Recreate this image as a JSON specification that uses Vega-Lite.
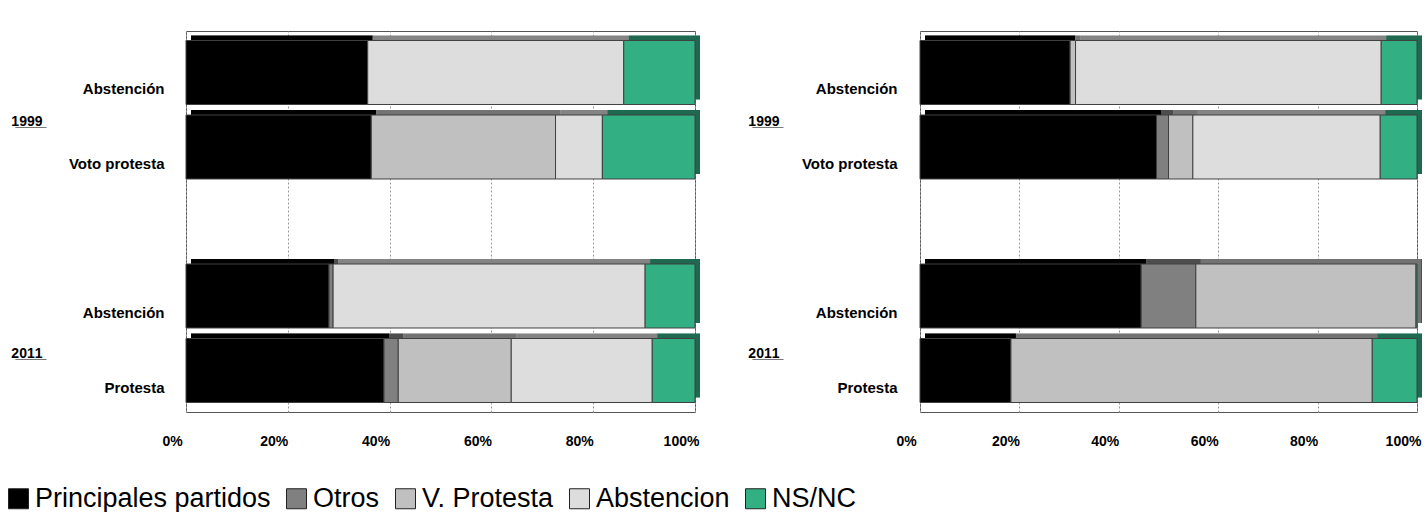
{
  "$schema": "https://vega.github.io/schema/vega-lite/v6.json",
  "background": "white",
  "padding": {"left": 5, "top": 30, "right": 2, "bottom": 0},
  "data": {"values": [
    {"panel": "A", "fila": "A99", "anio": "1999", "serie": "Principales partidos", "valor": 35.7},
    {"panel": "A", "fila": "A99", "anio": "1999", "serie": "Abstencion", "valor": 50.3},
    {"panel": "A", "fila": "A99", "anio": "1999", "serie": "NS/NC", "valor": 14.0},
    {"panel": "A", "fila": "V99", "anio": "1999", "serie": "Principales partidos", "valor": 36.4},
    {"panel": "A", "fila": "V99", "anio": "1999", "serie": "V. Protesta", "valor": 36.2},
    {"panel": "A", "fila": "V99", "anio": "1999", "serie": "Abstencion", "valor": 9.2},
    {"panel": "A", "fila": "V99", "anio": "1999", "serie": "NS/NC", "valor": 18.2},
    {"panel": "A", "fila": "A11", "anio": "2011", "serie": "Principales partidos", "valor": 28.1},
    {"panel": "A", "fila": "A11", "anio": "2011", "serie": "Otros", "valor": 0.8},
    {"panel": "A", "fila": "A11", "anio": "2011", "serie": "Abstencion", "valor": 61.3},
    {"panel": "A", "fila": "A11", "anio": "2011", "serie": "NS/NC", "valor": 9.8},
    {"panel": "A", "fila": "P11", "anio": "2011", "serie": "Principales partidos", "valor": 38.9},
    {"panel": "A", "fila": "P11", "anio": "2011", "serie": "Otros", "valor": 2.8},
    {"panel": "A", "fila": "P11", "anio": "2011", "serie": "V. Protesta", "valor": 22.2},
    {"panel": "A", "fila": "P11", "anio": "2011", "serie": "Abstencion", "valor": 27.7},
    {"panel": "A", "fila": "P11", "anio": "2011", "serie": "NS/NC", "valor": 8.4},
    {"panel": "B", "fila": "A99", "anio": "1999", "serie": "Principales partidos", "valor": 30.2},
    {"panel": "B", "fila": "A99", "anio": "1999", "serie": "V. Protesta", "valor": 1.1},
    {"panel": "B", "fila": "A99", "anio": "1999", "serie": "Abstencion", "valor": 61.5},
    {"panel": "B", "fila": "A99", "anio": "1999", "serie": "NS/NC", "valor": 7.2},
    {"panel": "B", "fila": "V99", "anio": "1999", "serie": "Principales partidos", "valor": 47.6},
    {"panel": "B", "fila": "V99", "anio": "1999", "serie": "Otros", "valor": 2.4},
    {"panel": "B", "fila": "V99", "anio": "1999", "serie": "V. Protesta", "valor": 4.9},
    {"panel": "B", "fila": "V99", "anio": "1999", "serie": "Abstencion", "valor": 37.7},
    {"panel": "B", "fila": "V99", "anio": "1999", "serie": "NS/NC", "valor": 7.4},
    {"panel": "B", "fila": "A11", "anio": "2011", "serie": "Principales partidos", "valor": 44.5},
    {"panel": "B", "fila": "A11", "anio": "2011", "serie": "Otros", "valor": 11.0},
    {"panel": "B", "fila": "A11", "anio": "2011", "serie": "V. Protesta", "valor": 44.3},
    {"panel": "B", "fila": "A11", "anio": "2011", "serie": "NS/NC", "valor": 0.2},
    {"panel": "B", "fila": "P11", "anio": "2011", "serie": "Principales partidos", "valor": 18.3},
    {"panel": "B", "fila": "P11", "anio": "2011", "serie": "V. Protesta", "valor": 72.7},
    {"panel": "B", "fila": "P11", "anio": "2011", "serie": "NS/NC", "valor": 9.0}
  ]},
  "transform": [
    {"calculate": "indexof(['Principales partidos','Otros','V. Protesta','Abstencion','NS/NC'], datum.serie)", "as": "orden"}
  ],
  "spacing": 46,
  "resolve": {"scale": {"color": "shared"}},
  "hconcat": [
    {
      "width": 509,
      "height": 381,
      "transform": [{"filter": "datum.panel === 'A'"}],
      "resolve": {"scale": {"y": "independent"}},
      "layer": [
        {
          "encoding": {
            "y": {"field": "fila", "type": "nominal", "scale": {"domain": ["A99", "V99", "sp", "A11", "P11"], "paddingInner": 0.141, "paddingOuter": 0.1275},
              "axis": {"title": null, "domain": false, "ticks": false, "tickSize": 0, "labelPadding": 22, "labelFontSize": 15, "labelOffset": 17,
                "labelExpr": "(datum.value === 'A99' || datum.value === 'A11') ? 'Abstención' : datum.value === 'V99' ? 'Voto protesta' : datum.value === 'P11' ? 'Protesta' : ''"}},
            "x": {"field": "valor", "type": "quantitative", "stack": "normalize", "scale": {"domain": [0, 1]},
              "axis": {"title": null, "format": ".0%", "values": [0, 0.2, 0.4, 0.6, 0.8, 1], "grid": true, "gridDash": [2, 2], "gridColor": "#999999", "domain": false, "ticks": false, "tickSize": 0, "labelPadding": 22, "labelOffset": -14, "labelFontSize": 14, "labelFlush": false}},
            "order": {"field": "orden", "type": "quantitative"}
          },
          "layer": [
            {"mark": {"type": "bar", "xOffset": 5, "yOffset": -5}, "encoding": {"color": {"field": "serie", "type": "nominal"}}},
            {"mark": {"type": "bar", "xOffset": 5, "yOffset": -5, "color": "black", "opacity": 0.4}},
            {"mark": {"type": "bar", "stroke": "#404040", "strokeWidth": 1},
              "encoding": {"color": {"field": "serie", "type": "nominal",
                "scale": {"domain": ["Principales partidos", "Otros", "V. Protesta", "Abstencion", "NS/NC"], "range": ["#000000", "#808080", "#C0C0C0", "#DDDDDD", "#33AF84"]},
                "legend": {"title": null, "orient": "none", "legendX": -181, "legendY": 454, "direction": "horizontal"}}}}
          ]
        },
        {
          "mark": {"type": "text"},
          "encoding": {
            "text": {"value": ""},
            "y": {"field": "anio", "type": "nominal", "scale": {"type": "point", "domain": ["1999", "2011"], "padding": 0.318},
              "axis": {"orient": "left", "offset": 144, "title": null, "domain": false, "ticks": false, "tickSize": 0, "grid": false, "labelPadding": 0, "labelFontSize": 14, "labelOffset": 16,
                "labelExpr": "datum.value === '1999' ? '1\u03329\u03329\u03329\u0332' : '2\u03320\u03321\u03321\u0332'"}}
          }
        }
      ]
    },
    {
      "width": 497,
      "height": 381,
      "transform": [{"filter": "datum.panel === 'B'"}],
      "resolve": {"scale": {"y": "independent"}},
      "layer": [
        {
          "encoding": {
            "y": {"field": "fila", "type": "nominal", "scale": {"domain": ["A99", "V99", "sp", "A11", "P11"], "paddingInner": 0.141, "paddingOuter": 0.1275},
              "axis": {"title": null, "domain": false, "ticks": false, "tickSize": 0, "labelPadding": 23, "labelFontSize": 15, "labelOffset": 17,
                "labelExpr": "(datum.value === 'A99' || datum.value === 'A11') ? 'Abstención' : datum.value === 'V99' ? 'Voto protesta' : datum.value === 'P11' ? 'Protesta' : ''"}},
            "x": {"field": "valor", "type": "quantitative", "stack": "normalize", "scale": {"domain": [0, 1]},
              "axis": {"title": null, "format": ".0%", "values": [0, 0.2, 0.4, 0.6, 0.8, 1], "grid": true, "gridDash": [2, 2], "gridColor": "#999999", "domain": false, "ticks": false, "tickSize": 0, "labelPadding": 22, "labelOffset": -14, "labelFontSize": 14, "labelFlush": false}},
            "order": {"field": "orden", "type": "quantitative"}
          },
          "layer": [
            {"mark": {"type": "bar", "xOffset": 5, "yOffset": -5}, "encoding": {"color": {"field": "serie", "type": "nominal"}}},
            {"mark": {"type": "bar", "xOffset": 5, "yOffset": -5, "color": "black", "opacity": 0.4}},
            {"mark": {"type": "bar", "stroke": "#404040", "strokeWidth": 1},
              "encoding": {"color": {"field": "serie", "type": "nominal",
                "scale": {"domain": ["Principales partidos", "Otros", "V. Protesta", "Abstencion", "NS/NC"], "range": ["#000000", "#808080", "#C0C0C0", "#DDDDDD", "#33AF84"]},
                "legend": {"title": null, "orient": "none", "legendX": -181, "legendY": 454, "direction": "horizontal"}}}}
          ]
        },
        {
          "mark": {"type": "text"},
          "encoding": {
            "text": {"value": ""},
            "y": {"field": "anio", "type": "nominal", "scale": {"type": "point", "domain": ["1999", "2011"], "padding": 0.318},
              "axis": {"orient": "left", "offset": 141, "title": null, "domain": false, "ticks": false, "tickSize": 0, "grid": false, "labelPadding": 0, "labelFontSize": 14, "labelOffset": 16,
                "labelExpr": "datum.value === '1999' ? '1\u03329\u03329\u03329\u0332' : '2\u03320\u03321\u03321\u0332'"}}
          }
        }
      ]
    }
  ],
  "config": {
    "font": "Liberation Sans",
    "view": {"stroke": "#555555", "strokeWidth": 1},
    "axis": {"labelFont": "Liberation Sans", "labelFontWeight": "bold", "labelColor": "#000000"},
    "legend": {
      "symbolType": "square", "symbolSize": 400, "symbolStrokeColor": "#222222", "symbolStrokeWidth": 1, "symbolOpacity": 1,
      "labelFont": "Liberation Sans", "labelFontSize": 27, "labelColor": "#000000", "labelOffset": 3, "labelLimit": 500,
      "columnPadding": 12, "padding": 0
    }
  }
}
